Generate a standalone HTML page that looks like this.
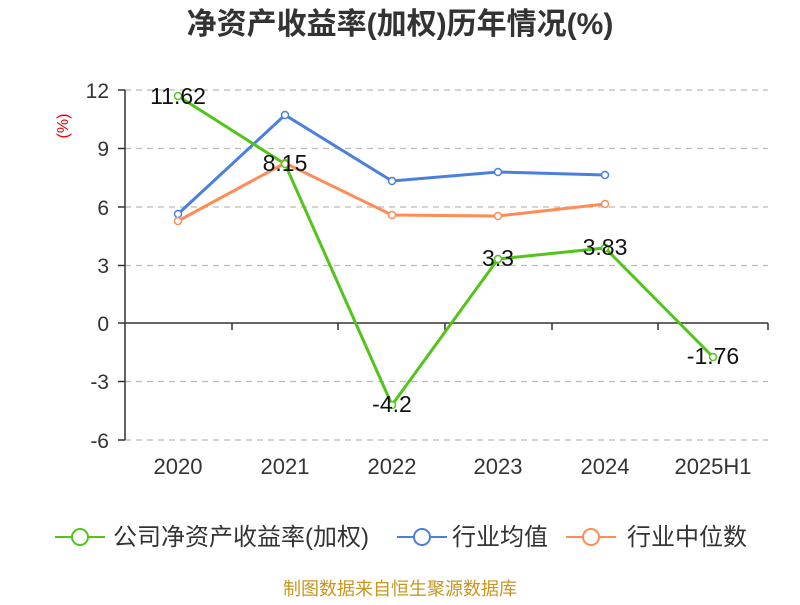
<!DOCTYPE html>
<html><head><meta charset="utf-8"><style>
body{margin:0;background:#fff;}
svg text{font-family:"Liberation Sans","Noto Sans CJK SC",sans-serif;}
</style></head><body>
<svg width="800" height="600" xmlns="http://www.w3.org/2000/svg">
<text x="400" y="34" text-anchor="middle" font-size="30" font-weight="bold" fill="#333">净资产收益率(加权)历年情况(%)</text>
<text transform="translate(68,126) rotate(-90)" text-anchor="middle" font-size="16" fill="#e00">(%)</text>
<g stroke="#bbb" stroke-dasharray="6,5" stroke-width="1.2">
<line x1="125" x2="768" y1="90" y2="90"/><line x1="125" x2="768" y1="148.5" y2="148.5"/>
<line x1="125" x2="768" y1="207" y2="207"/><line x1="125" x2="768" y1="265.5" y2="265.5"/>
<line x1="125" x2="768" y1="381.5" y2="381.5"/><line x1="125" x2="768" y1="440" y2="440"/>
</g>
<g stroke="#333" stroke-width="1.5">
<line x1="125" x2="125" y1="90" y2="440"/>
<line x1="118" x2="125" y1="90" y2="90"/><line x1="118" x2="125" y1="148.5" y2="148.5"/>
<line x1="118" x2="125" y1="207" y2="207"/><line x1="118" x2="125" y1="265.5" y2="265.5"/>
<line x1="118" x2="125" y1="323" y2="323"/><line x1="118" x2="125" y1="381.5" y2="381.5"/>
<line x1="118" x2="125" y1="440" y2="440"/>
<line x1="125" x2="768" y1="323" y2="323"/>
<line x1="232" x2="232" y1="323" y2="330"/><line x1="338" x2="338" y1="323" y2="330"/>
<line x1="445" x2="445" y1="323" y2="330"/><line x1="552" x2="552" y1="323" y2="330"/>
<line x1="658" x2="658" y1="323" y2="330"/><line x1="768" x2="768" y1="323" y2="330"/>
</g>
<g font-size="21" fill="#333" text-anchor="end">
<text x="109" y="98">12</text><text x="109" y="156">9</text><text x="109" y="215">6</text>
<text x="109" y="273">3</text><text x="109" y="331">0</text><text x="109" y="389">-3</text><text x="109" y="448">-6</text>
</g>
<g font-size="22" fill="#333" text-anchor="middle">
<text x="178" y="474">2020</text><text x="285" y="474">2021</text><text x="392" y="474">2022</text>
<text x="498" y="474">2023</text><text x="605" y="474">2024</text><text x="713" y="474">2025H1</text>
</g>
<polyline fill="none" stroke="#4a7fe0" stroke-width="3" points="178,214 285,115 392,181 498,172 605,175"/>
<polyline fill="none" stroke="#ff8c55" stroke-width="3" points="178,221 285,163 392,215 498,216 605,204"/>
<polyline fill="none" stroke="#52c41a" stroke-width="3" points="178,96 285,164 392,405 498,259 605,248 713,357"/>
<g fill="#fff" stroke-width="1.5">
<g stroke="#4a7fe0"><circle cx="178" cy="214" r="3.5"/><circle cx="285" cy="115" r="3.5"/><circle cx="392" cy="181" r="3.5"/><circle cx="498" cy="172" r="3.5"/><circle cx="605" cy="175" r="3.5"/></g>
<g stroke="#ff8c55"><circle cx="178" cy="221" r="3.5"/><circle cx="285" cy="163" r="3.5"/><circle cx="392" cy="215" r="3.5"/><circle cx="498" cy="216" r="3.5"/><circle cx="605" cy="204" r="3.5"/></g>
<g stroke="#52c41a"><circle cx="178" cy="96" r="3.5"/><circle cx="285" cy="164" r="3.5"/><circle cx="392" cy="405" r="3.5"/><circle cx="498" cy="259" r="3.5"/><circle cx="605" cy="248" r="3.5"/><circle cx="713" cy="357" r="3.5"/></g>
</g>
<g font-size="23" fill="#111" text-anchor="middle">
<text x="178" y="104">11.62</text><text x="285" y="171">8.15</text><text x="392" y="412">-4.2</text>
<text x="498" y="266">3.3</text><text x="605" y="255">3.83</text><text x="713" y="364">-1.76</text>
</g>
<g stroke-width="2" fill="#fff">
<line x1="55" x2="105" y1="537" y2="537" stroke="#52c41a"/><circle cx="80" cy="537" r="8" stroke="#52c41a"/>
<line x1="397" x2="447" y1="537" y2="537" stroke="#4a7fe0"/><circle cx="422" cy="537" r="8" stroke="#4a7fe0"/>
<line x1="566" x2="616" y1="537" y2="537" stroke="#ff8c55"/><circle cx="591" cy="537" r="8" stroke="#ff8c55"/>
</g>
<g font-size="24" fill="#333">
<text x="113" y="545">公司净资产收益率(加权)</text><text x="452" y="545">行业均值</text><text x="627" y="545">行业中位数</text>
</g>
<text x="400" y="595" text-anchor="middle" font-size="18" fill="#c8961e">制图数据来自恒生聚源数据库</text>
</svg>
</body></html>
